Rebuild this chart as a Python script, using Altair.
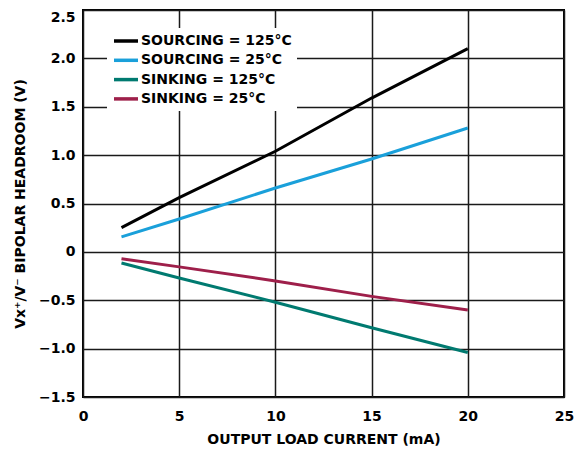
import altair as alt
import pandas as pd

series_names = ["SOURCING = 125°C", "SOURCING = 25°C", "SINKING = 125°C", "SINKING = 25°C"]
series_colors = ["#000000", "#1aa0da", "#007a70", "#9e1f4a"]
current_ma = [2, 5, 10, 15, 20]
sourcing_125 = [0.25, 0.56, 1.04, 1.59, 2.10]
sourcing_25 = [0.155, 0.34, 0.66, 0.96, 1.28]
sinking_125 = [-0.115, -0.27, -0.52, -0.785, -1.04]
sinking_25 = [-0.07, -0.155, -0.30, -0.46, -0.60]

rows = []
for name, vals in zip(series_names, [sourcing_125, sourcing_25, sinking_125, sinking_25]):
    for x, y in zip(current_ma, vals):
        rows.append({"series": name, "x": x, "y": y})
df = pd.DataFrame(rows)

FONT = "DejaVu Sans"
FS = 14

chart = alt.Chart(df).mark_line(strokeWidth=3, clip=True).encode(
    x=alt.X("x:Q", scale=alt.Scale(domain=[0, 25], nice=False),
            axis=alt.Axis(values=[0, 5, 10, 15, 20, 25], title="OUTPUT LOAD CURRENT (mA)",
                          labelFlush=False, labelPadding=12, titlePadding=9)),
    y=alt.Y("y:Q", scale=alt.Scale(domain=[-1.5, 2.5], nice=False),
            axis=alt.Axis(values=[-1.5, -1.0, -0.5, 0, 0.5, 1.0, 1.5, 2.0, 2.5],
                          labelExpr="datum.value == 0 ? '0' : replace(format(datum.value, '.1f'), '-', '−')",
                          labelBaseline={"condition": {"test": "datum.value == 2.5", "value": "top"}, "value": "middle"},
                          title="Vx⁺/V⁻ BIPOLAR HEADROOM (V)", labelPadding=8, titlePadding=11)),
    color=alt.Color("series:N", sort=series_names,
                    scale=alt.Scale(domain=series_names, range=series_colors),
                    legend=alt.Legend(title=None, orient="none", legendX=24, legendY=18,
                                      fillColor="white", padding=5,
                                      symbolType="M-1,0H3", symbolSize=144,
                                      symbolStrokeWidth=3.5, labelOffset=13,
                                      labelFontSize=FS, labelFont=FONT, labelFontWeight="bold",
                                      labelColor="black", rowPadding=4.3)),
).properties(
    width=481, height=387,
    autosize=alt.AutoSizeParams(type="none"),
    padding={"left": 75, "top": 2, "right": 10, "bottom": 52},
).configure_view(
    stroke="black", strokeWidth=2
).configure_axis(
    grid=True, gridColor="#1a1a1a", gridWidth=1.5, gridOpacity=1,
    domain=False, ticks=False,
    labelFont=FONT, labelFontSize=FS, labelFontWeight="bold", labelColor="black",
    titleFont=FONT, titleFontSize=FS, titleFontWeight="bold", titleColor="black",
)

chart.save("out.html", embed_options={"renderer": "svg", "actions": False})
